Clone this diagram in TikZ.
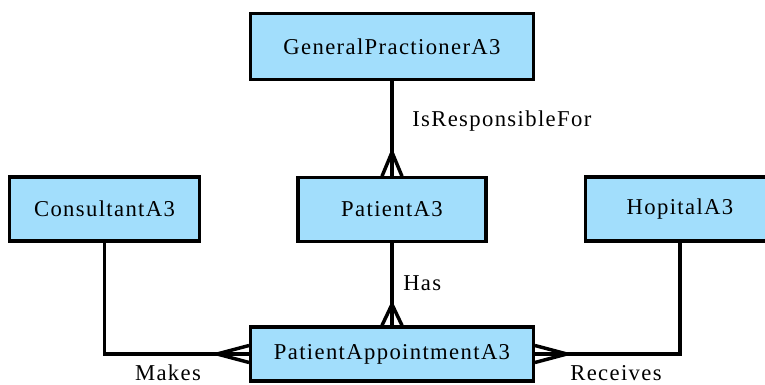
\documentclass[tikz,border=0pt]{standalone}
\usepackage{fontspec}
\setmainfont{Liberation Serif}[LetterSpace=6]
\usetikzlibrary{calc}
\definecolor{entfill}{RGB}{162,222,252}

\begin{document}
\begin{tikzpicture}
      [x=.75pt,y=.75pt
      ,ent/.style={draw=black,fill=entfill,line width=2.4pt,inner sep=0pt
                  ,font=\fontsize{17}{20}\selectfont}
      ,lnk/.style={line width=2.6pt}
      ,lbl/.style={inner sep=0pt,font=\fontsize{17}{20}\selectfont}
      ]
        \useasboundingbox (0,0) rectangle (765,385);
        % entities
        \node[ent,minimum width=212pt,minimum height=49pt] (gp) at (392,338.5) {GeneralPractionerA3};
        \node[ent,minimum width=141pt,minimum height=47.5pt] (pat) at (392,175.5) {PatientA3};
        \node[ent,minimum width=142pt,minimum height=48pt] (con) at (104.5,176) {ConsultantA3};
        \node[ent,minimum width=142pt,minimum height=48pt] (hop) at (680,176) {HopitalA3};
        \node[ent,minimum width=212pt,minimum height=40.5pt] (pa) at (392,31) {PatientAppointmentA3};
        % relations
        \draw[lnk] (gp) -- (pat);
        \draw[lnk] (pat) -- (pa);
        \draw[lnk] (con.south) |- (pa.west);
        \draw[lnk] (hop.south) |- (pa.east);
        % crow's feet
        \coordinate (ftpat) at ($(pat.north)+(0,24)$);
        \coordinate (ftpa) at ($(pa.north)+(0,21)$);
        \coordinate (ftcon) at ($(pa.west)+(-32,0)$);
        \coordinate (fthop) at ($(pa.east)+(32,0)$);
        \foreach \d in {-10,0,10}{
          \draw[lnk] (ftpat) -- ($(pat.north)+(\d,0)$);
          \draw[lnk] (ftpa) -- ($(pa.north)+(\d,0)$);
          \draw[lnk] (ftcon) -- ($(pa.west)+(0,\d*.85)$);
          \draw[lnk] (fthop) -- ($(pa.east)+(0,\d*.85)$);
        }
        % labels
        \node[lbl,anchor=west] (resp) at (412,264) {IsResponsibleFor};
        \node[lbl,anchor=west] (has) at (403,102) {Has};
        \node[lbl] (makes) at (168,12) {Makes};
        \node[lbl] (recv) at (616,12) {Receives};
\end{tikzpicture}
\end{document}
